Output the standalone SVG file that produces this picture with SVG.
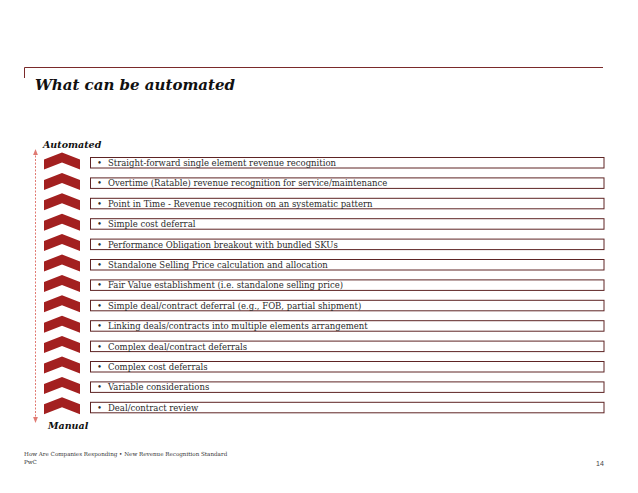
<svg xmlns="http://www.w3.org/2000/svg" width="638" height="493" viewBox="0 0 638 493">
<style>
.t{font-family:"DejaVu Serif","Liberation Serif",serif;font-size:8.5px;fill:#2b2b2b}
.box{fill:#fff;stroke:#5e2424;stroke-width:1}
.chev{fill:#a32020}
.lbl{font-family:"DejaVu Serif","Liberation Serif",serif;font-weight:bold;font-style:italic;fill:#111}
.ft{font-family:"DejaVu Serif","Liberation Serif",serif;font-size:5.6px;fill:#333}
</style>
<defs>
<polygon id="chev" class="chev" points="44,7 62,0 80,7 80,17 62,10 44,17"/>
<marker id="ah" viewBox="0 0 10 10" refX="5" refY="5" markerWidth="6" markerHeight="6" orient="auto-start-reverse"><path d="M0,1 L10,5 L0,9 z" fill="#e07a72"/></marker>
</defs>
<rect width="638" height="493" fill="#fff"/>
<path d="M24.5,78 V67.5 H603" fill="none" stroke="#7a2a2a" stroke-width="1"/>
<text x="35" y="90" class="lbl" font-size="15">What can be automated</text>
<g id="axis">
<line x1="35.5" y1="152" x2="35.5" y2="420" stroke="#e07a72" stroke-width="1" stroke-dasharray="2,1.5" marker-start="url(#ah)" marker-end="url(#ah)"/>
<text x="43" y="148" class="lbl" font-size="9.5">Automated</text>
<text x="48" y="429" class="lbl" font-size="9.5">Manual</text>
</g>
<g id="chevrons">
<use href="#chev" y="152.5"/>
<use href="#chev" y="172.9"/>
<use href="#chev" y="193.3"/>
<use href="#chev" y="213.7"/>
<use href="#chev" y="234.1"/>
<use href="#chev" y="254.5"/>
<use href="#chev" y="274.9"/>
<use href="#chev" y="295.3"/>
<use href="#chev" y="315.7"/>
<use href="#chev" y="336.1"/>
<use href="#chev" y="356.5"/>
<use href="#chev" y="376.9"/>
<use href="#chev" y="397.3"/>
</g>
<g id="item1"><rect class="box" x="90.5" y="157.5" width="513.5" height="10.5"/><text class="t" x="97" y="166">•</text><text class="t" x="108" y="166">Straight-forward single element revenue recognition</text></g>
<g id="item2"><rect class="box" x="90.5" y="177.9" width="513.5" height="10.5"/><text class="t" x="97" y="186.4">•</text><text class="t" x="108" y="186.4">Overtime (Ratable) revenue recognition for service/maintenance</text></g>
<g id="item3"><rect class="box" x="90.5" y="198.3" width="513.5" height="10.5"/><text class="t" x="97" y="206.8">•</text><text class="t" x="108" y="206.8">Point in Time - Revenue recognition on an systematic pattern</text></g>
<g id="item4"><rect class="box" x="90.5" y="218.7" width="513.5" height="10.5"/><text class="t" x="97" y="227.2">•</text><text class="t" x="108" y="227.2">Simple cost deferral</text></g>
<g id="item5"><rect class="box" x="90.5" y="239.1" width="513.5" height="10.5"/><text class="t" x="97" y="247.6">•</text><text class="t" x="108" y="247.6">Performance Obligation breakout with bundled SKUs</text></g>
<g id="item6"><rect class="box" x="90.5" y="259.5" width="513.5" height="10.5"/><text class="t" x="97" y="268">•</text><text class="t" x="108" y="268">Standalone Selling Price calculation and allocation</text></g>
<g id="item7"><rect class="box" x="90.5" y="279.9" width="513.5" height="10.5"/><text class="t" x="97" y="288.4">•</text><text class="t" x="108" y="288.4">Fair Value establishment (i.e. standalone selling price)</text></g>
<g id="item8"><rect class="box" x="90.5" y="300.3" width="513.5" height="10.5"/><text class="t" x="97" y="308.8">•</text><text class="t" x="108" y="308.8">Simple deal/contract deferral (e.g., FOB, partial shipment)</text></g>
<g id="item9"><rect class="box" x="90.5" y="320.7" width="513.5" height="10.5"/><text class="t" x="97" y="329.2">•</text><text class="t" x="108" y="329.2">Linking deals/contracts into multiple elements arrangement</text></g>
<g id="item10"><rect class="box" x="90.5" y="341.1" width="513.5" height="10.5"/><text class="t" x="97" y="349.6">•</text><text class="t" x="108" y="349.6">Complex deal/contract deferrals</text></g>
<g id="item11"><rect class="box" x="90.5" y="361.5" width="513.5" height="10.5"/><text class="t" x="97" y="370">•</text><text class="t" x="108" y="370">Complex cost deferrals</text></g>
<g id="item12"><rect class="box" x="90.5" y="381.9" width="513.5" height="10.5"/><text class="t" x="97" y="390.4">•</text><text class="t" x="108" y="390.4">Variable considerations</text></g>
<g id="item13"><rect class="box" x="90.5" y="402.3" width="513.5" height="10.5"/><text class="t" x="97" y="410.8">•</text><text class="t" x="108" y="410.8">Deal/contract review</text></g>
<g id="footer">
<text class="ft" x="24" y="456">How Are Companies Responding • New Revenue Recognition Standard</text>
<text class="ft" x="24" y="464">PwC</text>
<text x="596" y="466" font-family="Liberation Sans, Arial, sans-serif" font-size="7" fill="#444">14</text>
</g>
</svg>
